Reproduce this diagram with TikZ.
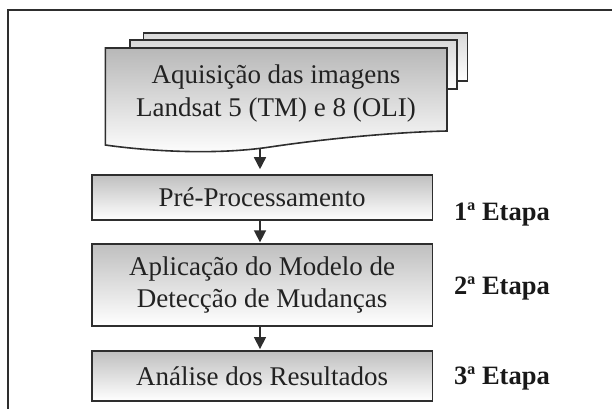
\documentclass[tikz,border=0pt]{standalone}
\usepackage{fontspec}
\setmainfont{Liberation Serif}
\usetikzlibrary{arrows.meta}
\definecolor{ink}{HTML}{2E2E2E}
\definecolor{txt}{HTML}{222222}
\begin{document}
\begin{tikzpicture}[x=1pt,y=-1pt,
  box/.style={draw=ink, line width=1.6pt, top color=black!25, bottom color=white,
    minimum width=340.8pt, align=center, inner sep=0pt, text=txt,
    font=\fontsize{27}{32}\selectfont},
  sheet/.style={draw=ink, line width=1.6pt, top color=black!15, bottom color=white},
  lab/.style={anchor=base west, inner sep=0pt, font=\fontsize{26.5}{30}\selectfont\bfseries, text=black!90},
  arr/.style={draw=ink, line width=1.6pt, -{Triangle[width=12pt,length=12pt]}}]
\useasboundingbox (0,0) rectangle (612,408);
\clip (0,0) rectangle (612,408);
% frame
\draw[ink, line width=1.6pt] (8,420) -- (8,10) -- (620,10);
% document stack
\draw[sheet] (143.6,33) rectangle (467.6,81);
\draw[sheet] (130,40) rectangle (456.7,89);
\draw[draw=ink, line width=1.6pt, top color=black!28, bottom color=white]
  (105.4,48) -- (447,48) -- (447,131)
  .. controls (400,132) and (330,138) .. (270,147)
  .. controls (210,156) and (140,150) .. (105.4,145) -- cycle;
\node[inner sep=0pt, align=center, text=txt, font=\fontsize{27}{33}\selectfont]
  (acq) at (276,93.5) {Aquisição das imagens\\Landsat 5 (TM) e 8 (OLI)};
\coordinate (docb) at (260,148);
% process boxes
\node[box, minimum height=45pt] (b1) at (262.1,197.5) {Pré-Processamento};
\node[box, minimum height=81.7pt] (b2) at (262.1,285) {Aplicação do Modelo de\\Detecção de Mudanças};
\node[box, minimum height=50.3pt] (b3) at (262.1,376) {Análise dos Resultados};
% arrows
\draw[arr, shorten >=5pt] (docb) -- (docb |- b1.north);
\draw[arr, shorten >=1pt] (docb |- b1.south) -- (docb |- b2.north);
\draw[arr, shorten >=1pt] (docb |- b2.south) -- (docb |- b3.north);
% stage labels
\node[lab] (e1) at (454,220) {1ª Etapa};
\node[lab] (e2) at (454,294) {2ª Etapa};
\node[lab] (e3) at (454,384) {3ª Etapa};
\end{tikzpicture}
\end{document}
